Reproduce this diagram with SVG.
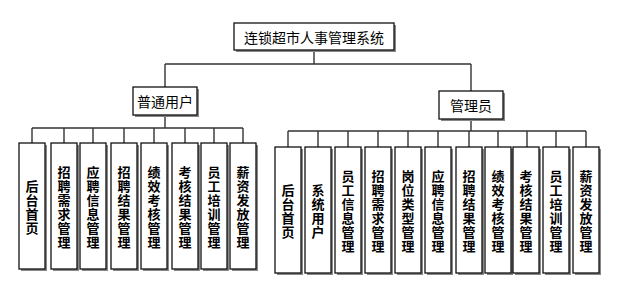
<svg xmlns="http://www.w3.org/2000/svg" width="619" height="289" viewBox="0 0 619 289">
<style>
.bg{fill:#fff}
.box{fill:#fff;stroke:#111;stroke-width:1.3}
.sh{fill:#888}
.t{font-family:"Noto Sans CJK SC","Noto Sans CJK JP",sans-serif;font-size:14px;fill:#000;text-anchor:middle;dominant-baseline:central}
.v{font-family:"Noto Sans CJK SC","Noto Sans CJK JP",sans-serif;font-size:13px;font-weight:bold;fill:#000;text-anchor:middle;dominant-baseline:central}
.c{fill:none;stroke:#333;stroke-width:1.4}
</style>
<rect class="bg" x="0" y="0" width="619" height="289"/>
<g id="connectors">
<path class="c" d="M314 50V64M165 64H471M165 64V87M471 64V91"/>
<path class="c" d="M165 115V128M32 128H243M32 128V143M64 128V143M93 128V143M124 128V143M154 128V143M185 128V143M214 128V143M243 128V143"/>
<path class="c" d="M471 119V131M288 131H586M288 131V147M318 131V147M348 131V147M378 131V147M408 131V147M438 131V147M469 131V147M498 131V147M527 131V147M556 131V147M586 131V147"/>
</g>
<g id="root">
<rect class="sh" x="236" y="25" width="160" height="27"/>
<rect class="box" x="234" y="23" width="160" height="27"/>
<text class="t" x="314" y="37">连锁超市人事管理系统</text>
</g>
<g id="user">
<rect class="sh" x="135" y="89" width="64" height="28"/>
<rect class="box" x="133" y="87" width="64" height="28"/>
<text class="t" x="165" y="101">普通用户</text>
</g>
<g id="admin">
<rect class="sh" x="441" y="93" width="64" height="28"/>
<rect class="box" x="439" y="91" width="64" height="28"/>
<text class="t" x="471" y="105">管理员</text>
</g>
<g id="u1"><rect class="sh" x="21" y="145" width="26" height="126"/><rect class="box" x="19" y="143" width="26" height="126"/>
<text class="v"><tspan x="32" y="185">后</tspan><tspan x="32" y="199">台</tspan><tspan x="32" y="213">首</tspan><tspan x="32" y="227">页</tspan></text></g>
<g id="u2"><rect class="sh" x="53" y="145" width="26" height="126"/><rect class="box" x="51" y="143" width="26" height="126"/>
<text class="v"><tspan x="64" y="171">招</tspan><tspan x="64" y="185">聘</tspan><tspan x="64" y="199">需</tspan><tspan x="64" y="213">求</tspan><tspan x="64" y="227">管</tspan><tspan x="64" y="241">理</tspan></text></g>
<g id="u3"><rect class="sh" x="82" y="145" width="26" height="126"/><rect class="box" x="80" y="143" width="26" height="126"/>
<text class="v"><tspan x="93" y="171">应</tspan><tspan x="93" y="185">聘</tspan><tspan x="93" y="199">信</tspan><tspan x="93" y="213">息</tspan><tspan x="93" y="227">管</tspan><tspan x="93" y="241">理</tspan></text></g>
<g id="u4"><rect class="sh" x="113" y="145" width="26" height="126"/><rect class="box" x="111" y="143" width="26" height="126"/>
<text class="v"><tspan x="124" y="171">招</tspan><tspan x="124" y="185">聘</tspan><tspan x="124" y="199">结</tspan><tspan x="124" y="213">果</tspan><tspan x="124" y="227">管</tspan><tspan x="124" y="241">理</tspan></text></g>
<g id="u5"><rect class="sh" x="143" y="145" width="26" height="126"/><rect class="box" x="141" y="143" width="26" height="126"/>
<text class="v"><tspan x="154" y="171">绩</tspan><tspan x="154" y="185">效</tspan><tspan x="154" y="199">考</tspan><tspan x="154" y="213">核</tspan><tspan x="154" y="227">管</tspan><tspan x="154" y="241">理</tspan></text></g>
<g id="u6"><rect class="sh" x="174" y="145" width="26" height="126"/><rect class="box" x="172" y="143" width="26" height="126"/>
<text class="v"><tspan x="185" y="171">考</tspan><tspan x="185" y="185">核</tspan><tspan x="185" y="199">结</tspan><tspan x="185" y="213">果</tspan><tspan x="185" y="227">管</tspan><tspan x="185" y="241">理</tspan></text></g>
<g id="u7"><rect class="sh" x="203" y="145" width="26" height="126"/><rect class="box" x="201" y="143" width="26" height="126"/>
<text class="v"><tspan x="214" y="171">员</tspan><tspan x="214" y="185">工</tspan><tspan x="214" y="199">培</tspan><tspan x="214" y="213">训</tspan><tspan x="214" y="227">管</tspan><tspan x="214" y="241">理</tspan></text></g>
<g id="u8"><rect class="sh" x="232" y="145" width="26" height="126"/><rect class="box" x="230" y="143" width="26" height="126"/>
<text class="v"><tspan x="243" y="171">薪</tspan><tspan x="243" y="185">资</tspan><tspan x="243" y="199">发</tspan><tspan x="243" y="213">放</tspan><tspan x="243" y="227">管</tspan><tspan x="243" y="241">理</tspan></text></g>
<g id="a1"><rect class="sh" x="277" y="149" width="26" height="126"/><rect class="box" x="275" y="147" width="26" height="126"/>
<text class="v"><tspan x="288" y="189">后</tspan><tspan x="288" y="203">台</tspan><tspan x="288" y="217">首</tspan><tspan x="288" y="231">页</tspan></text></g>
<g id="a2"><rect class="sh" x="307" y="149" width="26" height="126"/><rect class="box" x="305" y="147" width="26" height="126"/>
<text class="v"><tspan x="318" y="189">系</tspan><tspan x="318" y="203">统</tspan><tspan x="318" y="217">用</tspan><tspan x="318" y="231">户</tspan></text></g>
<g id="a3"><rect class="sh" x="337" y="149" width="26" height="126"/><rect class="box" x="335" y="147" width="26" height="126"/>
<text class="v"><tspan x="348" y="175">员</tspan><tspan x="348" y="189">工</tspan><tspan x="348" y="203">信</tspan><tspan x="348" y="217">息</tspan><tspan x="348" y="231">管</tspan><tspan x="348" y="245">理</tspan></text></g>
<g id="a4"><rect class="sh" x="367" y="149" width="26" height="126"/><rect class="box" x="365" y="147" width="26" height="126"/>
<text class="v"><tspan x="378" y="175">招</tspan><tspan x="378" y="189">聘</tspan><tspan x="378" y="203">需</tspan><tspan x="378" y="217">求</tspan><tspan x="378" y="231">管</tspan><tspan x="378" y="245">理</tspan></text></g>
<g id="a5"><rect class="sh" x="397" y="149" width="26" height="126"/><rect class="box" x="395" y="147" width="26" height="126"/>
<text class="v"><tspan x="408" y="175">岗</tspan><tspan x="408" y="189">位</tspan><tspan x="408" y="203">类</tspan><tspan x="408" y="217">型</tspan><tspan x="408" y="231">管</tspan><tspan x="408" y="245">理</tspan></text></g>
<g id="a6"><rect class="sh" x="427" y="149" width="26" height="126"/><rect class="box" x="425" y="147" width="26" height="126"/>
<text class="v"><tspan x="438" y="175">应</tspan><tspan x="438" y="189">聘</tspan><tspan x="438" y="203">信</tspan><tspan x="438" y="217">息</tspan><tspan x="438" y="231">管</tspan><tspan x="438" y="245">理</tspan></text></g>
<g id="a7"><rect class="sh" x="458" y="149" width="26" height="126"/><rect class="box" x="456" y="147" width="26" height="126"/>
<text class="v"><tspan x="469" y="175">招</tspan><tspan x="469" y="189">聘</tspan><tspan x="469" y="203">结</tspan><tspan x="469" y="217">果</tspan><tspan x="469" y="231">管</tspan><tspan x="469" y="245">理</tspan></text></g>
<g id="a8"><rect class="sh" x="487" y="149" width="26" height="126"/><rect class="box" x="485" y="147" width="26" height="126"/>
<text class="v"><tspan x="498" y="175">绩</tspan><tspan x="498" y="189">效</tspan><tspan x="498" y="203">考</tspan><tspan x="498" y="217">核</tspan><tspan x="498" y="231">管</tspan><tspan x="498" y="245">理</tspan></text></g>
<g id="a9"><rect class="sh" x="515" y="149" width="26" height="126"/><rect class="box" x="513" y="147" width="26" height="126"/>
<text class="v"><tspan x="526" y="175">考</tspan><tspan x="526" y="189">核</tspan><tspan x="526" y="203">结</tspan><tspan x="526" y="217">果</tspan><tspan x="526" y="231">管</tspan><tspan x="526" y="245">理</tspan></text></g>
<g id="a10"><rect class="sh" x="545" y="149" width="26" height="126"/><rect class="box" x="543" y="147" width="26" height="126"/>
<text class="v"><tspan x="556" y="175">员</tspan><tspan x="556" y="189">工</tspan><tspan x="556" y="203">培</tspan><tspan x="556" y="217">训</tspan><tspan x="556" y="231">管</tspan><tspan x="556" y="245">理</tspan></text></g>
<g id="a11"><rect class="sh" x="575" y="149" width="26" height="126"/><rect class="box" x="573" y="147" width="26" height="126"/>
<text class="v"><tspan x="586" y="175">薪</tspan><tspan x="586" y="189">资</tspan><tspan x="586" y="203">发</tspan><tspan x="586" y="217">放</tspan><tspan x="586" y="231">管</tspan><tspan x="586" y="245">理</tspan></text></g>
</svg>
